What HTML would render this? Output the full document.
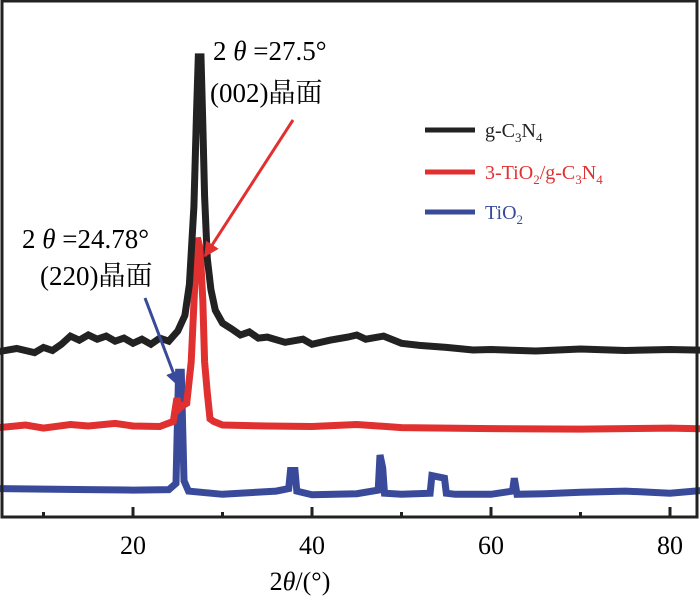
<!DOCTYPE html>
<html><head><meta charset="utf-8"><style>
body{margin:0;background:#fff}
text{font-family:"Liberation Serif","Noto Serif CJK SC",serif}
</style></head><body>
<svg id="chart" width="700" height="599">
<defs>
<marker id="ar" viewBox="0 0 10 10" refX="9" refY="5" markerWidth="5" markerHeight="5" orient="auto"><path d="M0,0L10,5L0,10z" fill="#e03030"/></marker>
<marker id="ab" viewBox="0 0 10 10" refX="9" refY="5" markerWidth="5" markerHeight="5" orient="auto"><path d="M0,0L10,5L0,10z" fill="#3a4a9a"/></marker>
</defs>
<g id="series"></g>
<rect x="2" y="1" width="695" height="516" fill="none" stroke="#222" stroke-width="3"/>
<g id="axis"></g>
<text x="300" y="590" font-size="26" text-anchor="middle">2<tspan font-style="italic">θ</tspan>/(°)</text>
<g>
<line x1="425" y1="130" x2="475" y2="130" stroke="#222" stroke-width="5"/>
<text x="485" y="137" font-size="20" fill="#222">g-C<tspan font-size="13" dy="5">3</tspan><tspan dy="-5">N</tspan><tspan font-size="13" dy="5">4</tspan></text>
<line x1="425" y1="172" x2="475" y2="172" stroke="#e03030" stroke-width="5"/>
<text x="485" y="179" font-size="20" fill="#e03030">3-TiO<tspan font-size="13" dy="5">2</tspan><tspan dy="-5">/g-C</tspan><tspan font-size="13" dy="5">3</tspan><tspan dy="-5">N</tspan><tspan font-size="13" dy="5">4</tspan></text>
<line x1="425" y1="212" x2="475" y2="212" stroke="#3a4a9a" stroke-width="5"/>
<text x="485" y="219" font-size="20" fill="#3a4a9a">TiO<tspan font-size="13" dy="5">2</tspan></text>
</g>
<text x="213" y="60" font-size="27">2 <tspan font-style="italic">θ</tspan> =27.5°</text>
<text x="210" y="102" font-size="27">(002)晶面</text>
<line x1="293" y1="120" x2="205" y2="256" stroke="#e03030" stroke-width="3" marker-end="url(#ar)"/>
<text x="22" y="248" font-size="27">2 <tspan font-style="italic">θ</tspan> =24.78°</text>
<text x="40" y="285" font-size="27">(220)晶面</text>
<line x1="145" y1="298" x2="178" y2="385" stroke="#3a4a9a" stroke-width="3" marker-end="url(#ab)"/>
</svg>
<script>
const xTicks=[20,40,60,80];
const xMinor=[10,30,50,70];
const blackX=[5,7,9,10,11,12,13,14,15,16,17,18,19,20,21,22,23,24,25,25.8,26.3,26.8,27.1,27.3,27.6,27.8,28,28.3,28.7,29.2,30,31,32,33,34,35,37,39,40,42,44,45,46,48,50,52,55,58,60,65,70,75,80,85];
const blackY=[32,32.6,31.8,32.8,32.2,33.4,35,34.2,35.2,34.4,35,34,34.6,33.6,34.4,33.4,34.6,34,36,39,45,60,78,89,89,76,62,50,44,40,37.5,36.4,35.2,35.8,34.6,34.8,33.8,34.4,33.4,34.2,34.8,35.2,34.4,35,33.6,33.2,32.8,32.3,32.4,32.1,32.5,32.2,32.4,32.2];
const redX=[5,8,10,13,15,18,20,23,24.5,24.9,25.2,25.5,26,26.5,26.9,27.2,27.5,27.8,28,28.3,28.6,29,30,35,40,45,50,60,70,80,85];
const redY=[17.3,17.8,17.2,17.9,17.6,18.1,17.6,17.5,18.5,23,21,21.5,22,30,45,54,52,42,30,24,19,18.5,17.8,17.6,17.5,17.9,17.3,17.1,17,17.2,17];
const blueX=[5,10,15,20,24,24.8,25.1,25.4,25.7,26.2,30,36,37.4,37.6,38.1,38.3,40,45,47.4,47.6,47.9,48.1,50,53.2,53.4,54.8,55,56,60,62.4,62.6,62.9,66,70,75,80,84,85];
const blueY=[5.5,5.4,5.3,5.2,5.3,6.5,28,28,7,5,4.4,5,5.5,9,9,5,4.3,4.5,5.2,12,9.5,4.6,4.4,4.6,8,7.5,4.6,4.4,4.4,5,7.5,4.4,4.5,4.8,5,4.6,5.2,4.8];
const xs=v=>133+(v-20)*8.95;
const ys=v=>517-v*5.17;
const NS="http://www.w3.org/2000/svg";
const g=document.getElementById('series');
function draw(X,Y,color,name){
  const p=document.createElementNS(NS,'polyline');
  p.setAttribute('points',X.map((x,i)=>xs(x).toFixed(1)+','+ys(Y[i]).toFixed(1)).join(' '));
  p.setAttribute('fill','none');p.setAttribute('stroke',color);p.setAttribute('stroke-width','7');
  p.setAttribute('stroke-linejoin','miter');
  
  
  g.appendChild(p);
}
draw(blueX,blueY,'#3a4a9a','series-tio2');
draw(redX,redY,'#e03030','series-composite');
draw(blackX,blackY,'#222','series-gc3n4');
const ax=document.getElementById('axis');
xTicks.forEach(t=>{
  const l=document.createElementNS(NS,'line');
  l.setAttribute('x1',xs(t));l.setAttribute('x2',xs(t));l.setAttribute('y1',507);l.setAttribute('y2',517);
  l.setAttribute('stroke','#222');l.setAttribute('stroke-width','3');
  
  
  ax.appendChild(l);
  const tx=document.createElementNS(NS,'text');
  tx.setAttribute('x',xs(t));tx.setAttribute('y',554);tx.setAttribute('font-size','26');tx.setAttribute('text-anchor','middle');
  tx.textContent=t;
  
  
  ax.appendChild(tx);
});
xMinor.forEach(t=>{
  const l=document.createElementNS(NS,'line');
  l.setAttribute('x1',xs(t));l.setAttribute('x2',xs(t));l.setAttribute('y1',512);l.setAttribute('y2',517);
  l.setAttribute('stroke','#222');l.setAttribute('stroke-width','3');
  
  
  ax.appendChild(l);
});
</script>
</body></html>
